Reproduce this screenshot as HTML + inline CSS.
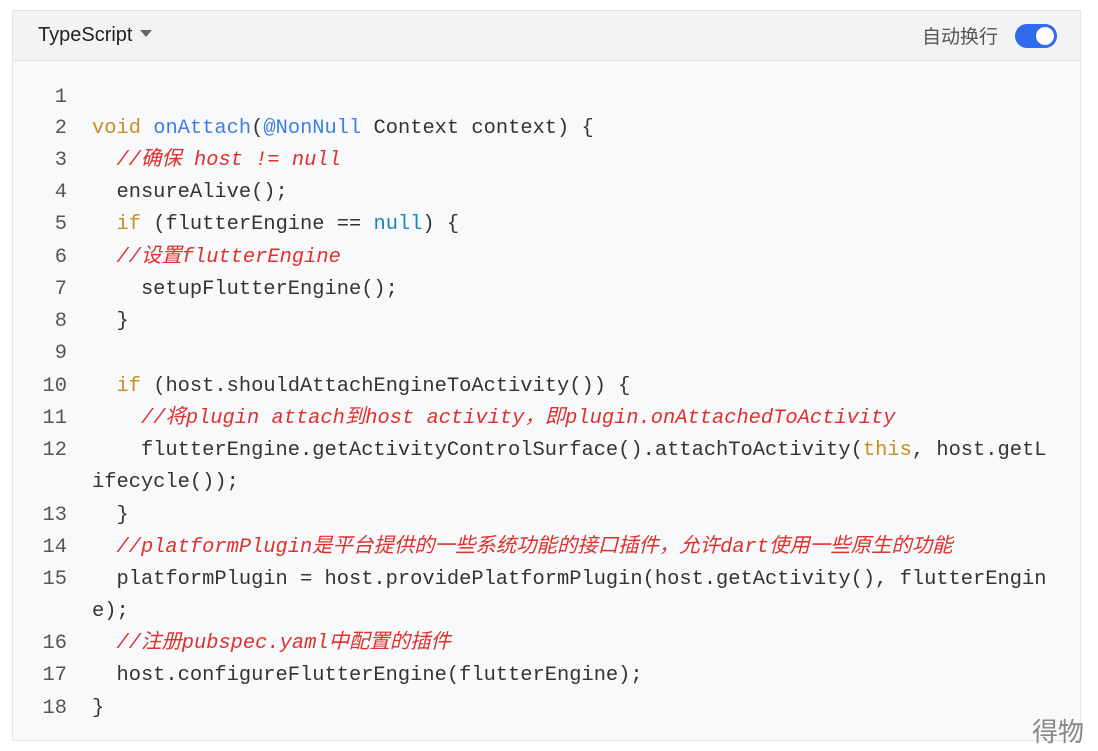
<!DOCTYPE html>
<html><head><meta charset="utf-8"><style>
body{margin:0;width:1098px;height:751px;background:#fff;position:relative;overflow:hidden;font-family:"Liberation Sans","Noto Sans CJK SC",sans-serif}
.box{position:absolute;left:12px;top:10px;width:1067px;height:729px;border:1px solid #e3e4e6;background:#f8f9fa}
.hd{position:absolute;left:0;top:0;right:0;height:49px;background:#f2f3f5;border-bottom:1px solid #e3e4e6}
.lang{position:absolute;left:25px;top:13px;font-size:20px;color:#222}
.tri{display:inline-block;width:0;height:0;border-left:6px solid transparent;border-right:6px solid transparent;border-top:7px solid #666;margin-left:8px;vertical-align:4px}
.wrap{position:absolute;left:909px;top:11px;font-size:19px;color:#555}
.tog{position:absolute;left:1002px;top:13px;width:42px;height:24px;border-radius:12px;background:#2f6bea}
.tog:after{content:"";position:absolute;right:3px;top:3px;width:18px;height:18px;border-radius:50%;background:#fff}
.r{position:absolute;left:0;height:30px;line-height:30px;font-family:"Liberation Mono","Noto Sans CJK SC",monospace;font-size:20.4px;color:#333;white-space:pre}
.n{position:absolute;left:0;width:54px;text-align:right;color:#555}
.c{position:absolute;left:79px}
.k{color:#c69026}.f{color:#3f7fe0}.m{color:#e0302d;font-style:italic}.u{color:#1a84b8}
.logo{position:absolute;left:1032px;top:712px;font-size:26px;color:#888;font-family:"Noto Sans CJK SC",sans-serif}
</style></head><body>
<div class="box">
<div class="hd"><div class="lang">TypeScript<span class="tri"></span></div><div class="wrap">自动换行</div><div class="tog"></div></div>
<div class="r" style="top:72px"><span class="n">1</span></div>
<div class="r" style="top:103px"><span class="n">2</span><span class="c"><span class="k">void</span> <span class="f">onAttach</span>(<span class="f">@NonNull</span> Context context) {</span></div>
<div class="r" style="top:135px"><span class="n">3</span><span class="c">  <span class="m">//确保 host != null</span></span></div>
<div class="r" style="top:167px"><span class="n">4</span><span class="c">  ensureAlive();</span></div>
<div class="r" style="top:199px"><span class="n">5</span><span class="c">  <span class="k">if</span> (flutterEngine == <span class="u">null</span>) {</span></div>
<div class="r" style="top:232px"><span class="n">6</span><span class="c">  <span class="m">//设置flutterEngine</span></span></div>
<div class="r" style="top:264px"><span class="n">7</span><span class="c">    setupFlutterEngine();</span></div>
<div class="r" style="top:296px"><span class="n">8</span><span class="c">  }</span></div>
<div class="r" style="top:328px"><span class="n">9</span></div>
<div class="r" style="top:361px"><span class="n">10</span><span class="c">  <span class="k">if</span> (host.shouldAttachEngineToActivity()) {</span></div>
<div class="r" style="top:393px"><span class="n">11</span><span class="c">    <span class="m">//将plugin attach到host activity，即plugin.onAttachedToActivity</span></span></div>
<div class="r" style="top:425px"><span class="n">12</span><span class="c">    flutterEngine.getActivityControlSurface().attachToActivity(<span class="k">this</span>, host.getL</span></div>
<div class="r" style="top:457px"><span class="c">ifecycle());</span></div>
<div class="r" style="top:490px"><span class="n">13</span><span class="c">  }</span></div>
<div class="r" style="top:522px"><span class="n">14</span><span class="c">  <span class="m">//platformPlugin是平台提供的一些系统功能的接口插件，允许dart使用一些原生的功能</span></span></div>
<div class="r" style="top:554px"><span class="n">15</span><span class="c">  platformPlugin = host.providePlatformPlugin(host.getActivity(), flutterEngin</span></div>
<div class="r" style="top:586px"><span class="c">e);</span></div>
<div class="r" style="top:618px"><span class="n">16</span><span class="c">  <span class="m">//注册pubspec.yaml中配置的插件</span></span></div>
<div class="r" style="top:650px"><span class="n">17</span><span class="c">  host.configureFlutterEngine(flutterEngine);</span></div>
<div class="r" style="top:683px"><span class="n">18</span><span class="c">}</span></div>
</div>
<div class="logo">得物</div>
</body></html>
